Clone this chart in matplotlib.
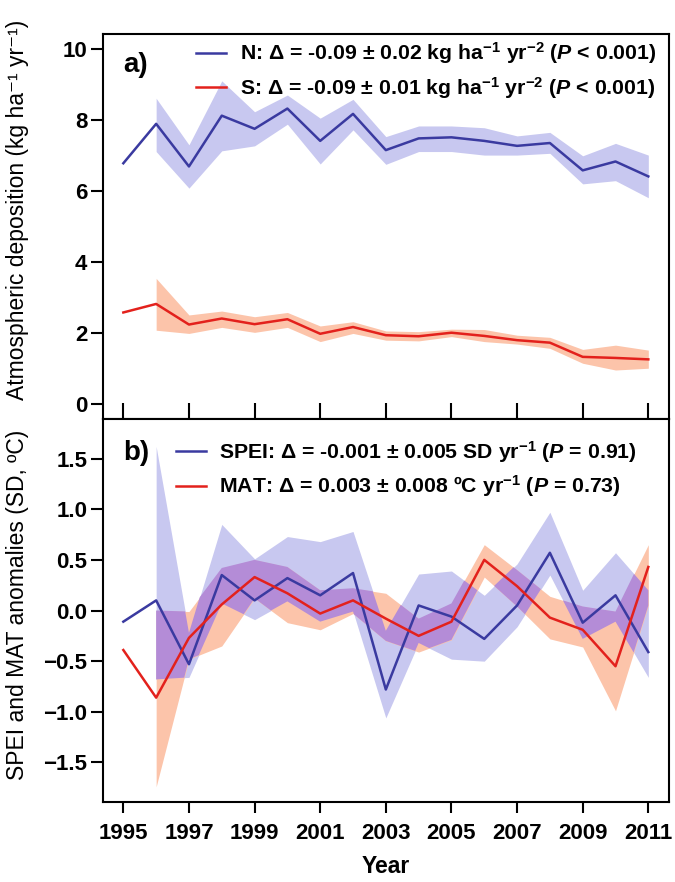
import numpy as np
import matplotlib
matplotlib.use("Agg")
import matplotlib.pyplot as plt

plt.rcParams['font.family'] = ['Liberation Sans', 'DejaVu Sans']
plt.rcParams['font.weight'] = 'bold'
plt.rcParams['mathtext.fontset'] = 'custom'
plt.rcParams['mathtext.rm'] = 'Liberation Sans:bold'
plt.rcParams['mathtext.bf'] = 'Liberation Sans:bold'
plt.rcParams['mathtext.it'] = 'Liberation Sans:italic:bold'

# years of the record, band starts one year later
years = np.arange(1995, 2012)
band_years = years[1:]

# a) atmospheric deposition (kg ha-1 yr-1)
n_dep = [6.78, 7.89, 6.69, 8.12, 7.75, 8.32, 7.41, 8.17, 7.15, 7.48, 7.51, 7.41, 7.27, 7.35, 6.58, 6.83, 6.41]
n_upper = [8.61, 7.30, 9.10, 8.23, 8.70, 8.05, 8.58, 7.53, 7.83, 7.83, 7.78, 7.55, 7.65, 6.99, 7.34, 7.01]
n_lower = [7.11, 6.08, 7.13, 7.27, 7.88, 6.76, 7.72, 6.75, 7.11, 7.11, 7.01, 7.01, 7.06, 6.20, 6.29, 5.81]

s_dep = [2.58, 2.82, 2.24, 2.41, 2.25, 2.39, 1.98, 2.17, 1.94, 1.91, 2.01, 1.92, 1.80, 1.73, 1.33, 1.30, 1.26]
s_upper = [3.54, 2.51, 2.62, 2.46, 2.58, 2.20, 2.32, 2.06, 2.04, 2.11, 2.10, 1.94, 1.88, 1.54, 1.66, 1.52]
s_lower = [2.08, 1.99, 2.16, 2.02, 2.16, 1.76, 1.99, 1.80, 1.78, 1.90, 1.76, 1.69, 1.57, 1.15, 0.96, 1.01]

# b) SPEI and MAT anomalies
spei = [-0.11, 0.10, -0.53, 0.35, 0.10, 0.32, 0.15, 0.37, -0.78, 0.05, -0.06, -0.28, 0.05, 0.57, -0.12, 0.15, -0.41]
spei_upper = [1.62, -0.22, 0.85, 0.51, 0.73, 0.68, 0.78, -0.20, 0.36, 0.39, 0.15, 0.46, 0.97, 0.20, 0.57, 0.20]
spei_lower = [-0.68, -0.66, 0.07, -0.09, 0.09, -0.11, -0.01, -1.06, -0.32, -0.48, -0.50, -0.16, 0.35, -0.28, -0.11, -0.66]

mat = [-0.39, -0.86, -0.27, 0.06, 0.33, 0.17, -0.03, 0.10, -0.08, -0.25, -0.11, 0.50, 0.24, -0.07, -0.19, -0.55, 0.43]
mat_upper = [0.00, -0.01, 0.42, 0.50, 0.43, 0.20, 0.22, 0.17, -0.08, 0.07, 0.65, 0.40, 0.14, 0.04, -0.01, 0.65]
mat_lower = [-1.74, -0.48, -0.35, 0.12, -0.12, -0.19, -0.03, -0.30, -0.41, -0.29, 0.33, 0.04, -0.28, -0.36, -0.99, 0.05]

labels_a = [r"N: Δ = -0.09 ± 0.02 kg ha$^{-1}$ yr$^{-2}$ ($\it{P}$ < 0.001)",
            r"S: Δ = -0.09 ± 0.01 kg ha$^{-1}$ yr$^{-2}$ ($\it{P}$ < 0.001)"]
labels_b = [r"SPEI: Δ = -0.001 ± 0.005 SD yr$^{-1}$ ($\it{P}$ = 0.91)",
            r"MAT: Δ = 0.003 ± 0.008 ºC yr$^{-1}$ ($\it{P}$ = 0.73)"]

blue = '#3a3aa0'
red = '#e3211c'
blue_band = '#c8c8f0'
red_band = '#fcc4aa'
overlap = '#b48cd7'

fig = plt.figure(figsize=(6.75, 8.82), dpi=100)
ax1 = fig.add_axes([0.1521, 0.5249, 0.839, 0.4366])
ax2 = fig.add_axes([0.1521, 0.0907, 0.839, 0.4342])

# panel a
ax1.fill_between(band_years, n_lower, n_upper, color=blue_band, lw=0)
ax1.fill_between(band_years, s_lower, s_upper, color=red_band, lw=0)
ax1.plot(years, n_dep, color=blue, lw=1.8, label=labels_a[0])
ax1.plot(years, s_dep, color=red, lw=1.8, label=labels_a[1])
ax1.set_ylim(-0.42, 10.42)
ax1.set_yticks([0, 2, 4, 6, 8, 10])

# panel b, overlap of the two bands drawn in purple
ax2.fill_between(band_years, spei_lower, spei_upper, color=blue_band, lw=0)
ax2.fill_between(band_years, mat_lower, mat_upper, color=red_band, lw=0)
xf = np.linspace(band_years[0], band_years[-1], 3001)
lo = np.maximum(np.interp(xf, band_years, spei_lower), np.interp(xf, band_years, mat_lower))
hi = np.minimum(np.interp(xf, band_years, spei_upper), np.interp(xf, band_years, mat_upper))
ax2.fill_between(xf, lo, hi, where=hi > lo, color=overlap, lw=0)
ax2.plot(years, spei, color=blue, lw=1.8, label=labels_b[0])
ax2.plot(years, mat, color=red, lw=1.8, label=labels_b[1])
ax2.set_ylim(-1.89, 1.89)
ax2.set_yticks([-1.5, -1.0, -0.5, 0.0, 0.5, 1.0, 1.5])
ax2.set_yticklabels(['\u22121.5', '\u22121.0', '\u22120.5', '0.0', '0.5', '1.0', '1.5'])

for ax in (ax1, ax2):
    ax.set_xlim(1994.37, 2011.63)
    ax.set_xticks(np.arange(1995, 2012, 2))
    for sp in ax.spines.values():
        sp.set_linewidth(1.5)
    ax.tick_params(axis='y', direction='out', length=9, width=1.5, labelsize=16, pad=2)
    ax.tick_params(axis='x', width=1.5, labelsize=16)

ax1.tick_params(axis='x', direction='inout', length=23, labelbottom=False)
ax2.tick_params(axis='x', direction='out', length=8, pad=7)

ax1.text(0.036, 0.92, 'a)', transform=ax1.transAxes, fontsize=20, va='center')
ax2.text(0.036, 0.912, 'b)', transform=ax2.transAxes, fontsize=20, va='center')

ax1.legend(loc='upper left', bbox_to_anchor=(0.15, 1.005), frameon=False, fontsize=15.3,
           handlelength=1.4, handletextpad=0.65, labelspacing=0.4, borderaxespad=0)
ax2.legend(loc='upper left', bbox_to_anchor=(0.115, 0.97), frameon=False, fontsize=15.3,
           handlelength=1.4, handletextpad=0.6, labelspacing=0.4, borderaxespad=0)

ax2.set_xlabel('Year', fontsize=16.5, fontweight='bold', labelpad=8)

narrow = ['Liberation Sans Narrow', 'Liberation Sans', 'DejaVu Sans']
fig.text(0.026, 0.762, 'Atmospheric deposition (kg ha\u207b\u00b9 yr\u207b\u00b9)', rotation=90,
         ha='center', va='center', fontsize=16.5, fontweight='normal', family=narrow)
fig.text(0.026, 0.314, 'SPEI and MAT anomalies (SD, \u00baC)', rotation=90,
         ha='center', va='center', fontsize=16.5, fontweight='normal', family=narrow)

fig.savefig('out.png', dpi=100)
